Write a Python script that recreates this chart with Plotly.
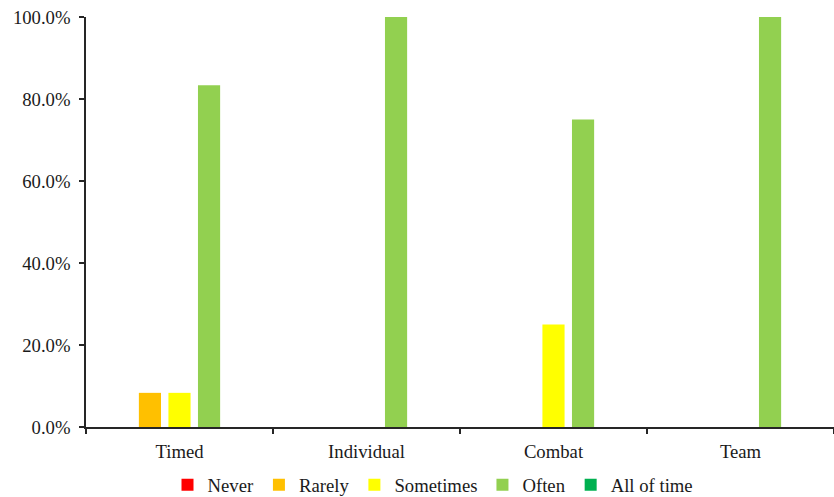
import plotly.graph_objects as go

categories = ["Timed", "Individual", "Combat", "Team"]
series_names = ["Never", "Rarely", "Sometimes", "Often", "All of time"]
never = [0.0, 0.0, 0.0, 0.0]
rarely = [0.0833, 0.0, 0.0, 0.0]
sometimes = [0.0833, 0.0, 0.25, 0.0]
often = [0.8333, 1.0, 0.75, 1.0]
all_of_time = [0.0, 0.0, 0.0, 0.0]
colors = ["#FF0000", "#FFC000", "#FFFF00", "#92D050", "#00B050"]

font_family = "'Liberation Serif', 'Times New Roman', 'DejaVu Serif', serif"
font_size = 18.7

fig = go.Figure()
for name, vals, col in zip(series_names, [never, rarely, sometimes, often, all_of_time], colors):
    fig.add_trace(go.Bar(x=categories, y=vals, name=name, marker_color=col,
                         marker_line_width=0))

fig.update_layout(
    width=834, height=497,
    margin=dict(l=86, r=0, t=17, b=70, autoexpand=False),
    paper_bgcolor="white", plot_bgcolor="white",
    barmode="group", bargap=0.21, bargroupgap=0.25,
    font=dict(family=font_family, size=font_size, color="#1a1a1a"),
    showlegend=True,
    legend=dict(orientation="h", xref="container", x=433 / 834, xanchor="center",
                yref="container", y=12 / 497, yanchor="middle",
                font=dict(family=font_family, size=font_size), itemwidth=30,
                tracegroupgap=0, traceorder="normal"),
)
fig.update_xaxes(
    showline=True, linecolor="#262626", linewidth=1.5,
    ticks="outside", tickson="boundaries", ticklen=5, tickcolor="#262626",
    tickwidth=1.5, showgrid=False, ticklabelstandoff=7,
    tickfont=dict(family=font_family, size=font_size),
)
fig.update_yaxes(
    range=[0, 1], dtick=0.2, tickformat=".1%",
    showline=True, linecolor="#262626", linewidth=1.5,
    ticks="outside", ticklen=5, tickcolor="#262626", tickwidth=1.5,
    showgrid=False, zeroline=False, ticklabelstandoff=5,
    tickfont=dict(family=font_family, size=font_size),
)

fig.write_html("out.html")
